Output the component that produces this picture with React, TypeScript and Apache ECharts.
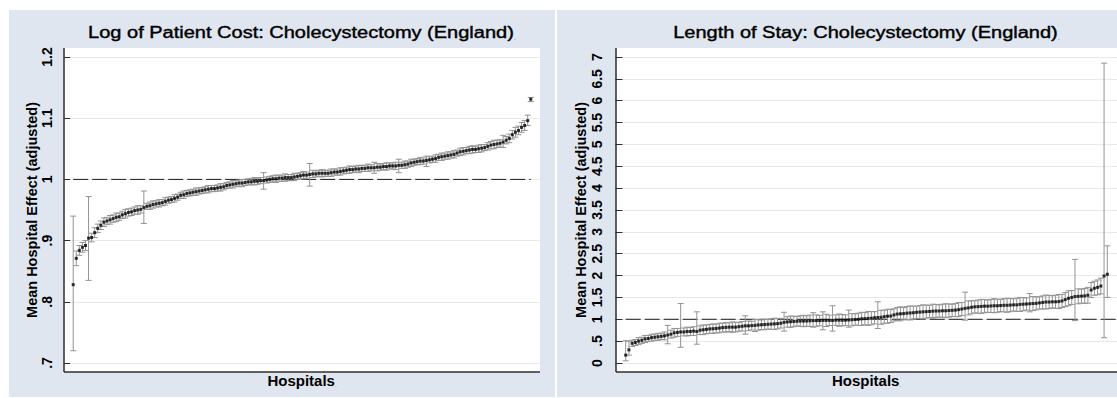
import React, { useEffect, useRef } from "react";
import * as echarts from "echarts";

// Hospitals ranked by their adjusted effect (1 = lowest)
const hospitalRank: number[] = Array.from({ length: 150 }, (_, i) => i + 1);

// Panel 1: log of patient cost, mean hospital effect and 95% CI half-width
const costMean: number[] = [
  0.828, 0.871, 0.884, 0.889, 0.892, 0.904, 0.905, 0.913, 0.92, 0.925,
  0.93, 0.932, 0.934, 0.936, 0.938, 0.939, 0.942, 0.944, 0.946, 0.947,
  0.949, 0.95, 0.951, 0.954, 0.956, 0.957, 0.959, 0.96, 0.961, 0.962,
  0.964, 0.966, 0.967, 0.969, 0.971, 0.974, 0.975, 0.977, 0.978, 0.979,
  0.98, 0.981, 0.982, 0.983, 0.984, 0.985, 0.985, 0.986, 0.987, 0.988,
  0.99, 0.991, 0.992, 0.993, 0.994, 0.994, 0.995, 0.996, 0.996, 0.997,
  0.997, 0.998, 0.998, 0.999, 1.0, 1.001, 1.001, 1.002, 1.002, 1.003,
  1.003, 1.003, 1.004, 1.005, 1.006, 1.007, 1.007, 1.008, 1.009, 1.009,
  1.01, 1.01, 1.01, 1.01, 1.011, 1.012, 1.012, 1.013, 1.014, 1.015,
  1.016, 1.016, 1.017, 1.017, 1.018, 1.018, 1.019, 1.019, 1.019, 1.02,
  1.02, 1.021, 1.021, 1.022, 1.022, 1.022, 1.023, 1.023, 1.024, 1.025,
  1.027, 1.028, 1.029, 1.03, 1.03, 1.031, 1.032, 1.033, 1.034, 1.036,
  1.037, 1.038, 1.039, 1.04, 1.041, 1.043, 1.045, 1.046, 1.047, 1.048,
  1.049, 1.049, 1.05, 1.051, 1.052, 1.054, 1.056, 1.057, 1.058, 1.059,
  1.061, 1.064, 1.067, 1.073, 1.077, 1.08, 1.085, 1.088, 1.096, 1.131,
];
const costHalf: number[] = [
  0.01, 0.012, 0.008, 0.008, 0.008, 0.01, 0.007, 0.008, 0.007, 0.007,
  0.007, 0.006, 0.007, 0.006, 0.007, 0.006, 0.006, 0.007, 0.006, 0.006,
  0.006, 0.007, 0.006, 0.006, 0.005, 0.006, 0.006, 0.005, 0.006, 0.005,
  0.006, 0.005, 0.005, 0.006, 0.005, 0.005, 0.006, 0.005, 0.005, 0.005,
  0.006, 0.005, 0.005, 0.005, 0.006, 0.005, 0.005, 0.005, 0.006, 0.005,
  0.005, 0.005, 0.006, 0.005, 0.005, 0.006, 0.005, 0.005, 0.005, 0.006,
  0.005, 0.005, 0.006, 0.005, 0.005, 0.005, 0.006, 0.005, 0.005, 0.006,
  0.005, 0.005, 0.006, 0.005, 0.005, 0.006, 0.005, 0.005, 0.006, 0.005,
  0.005, 0.006, 0.005, 0.005, 0.006, 0.005, 0.005, 0.006, 0.005, 0.005,
  0.006, 0.005, 0.005, 0.006, 0.005, 0.005, 0.006, 0.005, 0.005, 0.006,
  0.005, 0.005, 0.006, 0.005, 0.005, 0.006, 0.005, 0.005, 0.006, 0.005,
  0.006, 0.005, 0.005, 0.006, 0.005, 0.006, 0.005, 0.005, 0.006, 0.005,
  0.006, 0.005, 0.006, 0.005, 0.006, 0.005, 0.006, 0.006, 0.005, 0.006,
  0.006, 0.005, 0.006, 0.006, 0.005, 0.006, 0.006, 0.007, 0.006, 0.006,
  0.007, 0.006, 0.007, 0.007, 0.008, 0.007, 0.008, 0.008, 0.009, 0.004,
];
// hospitals whose interval is wide or asymmetric: [rank, lower, upper]
const costWide: [number, number, number][] = [
  [1, 0.72, 0.94], [6, 0.835, 0.972], [24, 0.928, 0.981], [63, 0.984, 1.011],
  [78, 0.989, 1.026], [99, 1.01, 1.028], [107, 1.011, 1.033], [116, 1.021, 1.038],
  [141, 1.052, 1.072], [149, 1.088, 1.105], [150, 1.127, 1.134],
];
const costTickValues: number[] = [0.7, 0.8, 0.9, 1.0, 1.1, 1.2];
const costTickLabels: string[] = [".7", ".8", ".9", "1", "1.1", "1.2"];

// Panel 2: length of stay, mean hospital effect and 95% CI half-width
const stayMean: number[] = [
  0.18, 0.3, 0.45, 0.47, 0.5, 0.52, 0.55, 0.56, 0.58, 0.59,
  0.6, 0.61, 0.62, 0.64, 0.66, 0.69, 0.7, 0.71, 0.71, 0.72,
  0.72, 0.73, 0.72, 0.75, 0.76, 0.77, 0.78, 0.785, 0.79, 0.8,
  0.81, 0.815, 0.82, 0.82, 0.82, 0.83, 0.84, 0.85, 0.85, 0.855,
  0.86, 0.87, 0.875, 0.88, 0.885, 0.89, 0.895, 0.9, 0.91, 0.93,
  0.94, 0.945, 0.95, 0.955, 0.96, 0.96, 0.96, 0.965, 0.97, 0.97,
  0.97, 0.975, 0.975, 0.975, 0.975, 0.98, 0.98, 0.98, 0.98, 0.985,
  0.99, 0.995, 1.0, 1.01, 1.015, 1.02, 1.025, 1.035, 1.04, 1.045,
  1.06, 1.07, 1.075, 1.1, 1.12, 1.125, 1.13, 1.14, 1.145, 1.15,
  1.16, 1.165, 1.17, 1.175, 1.18, 1.185, 1.19, 1.19, 1.195, 1.195,
  1.2, 1.205, 1.21, 1.22, 1.235, 1.25, 1.26, 1.275, 1.285, 1.29,
  1.295, 1.3, 1.3, 1.305, 1.31, 1.31, 1.315, 1.32, 1.32, 1.325,
  1.33, 1.33, 1.34, 1.345, 1.35, 1.355, 1.36, 1.365, 1.375, 1.385,
  1.395, 1.395, 1.4, 1.4, 1.405, 1.42, 1.45, 1.48, 1.5, 1.52,
  1.525, 1.53, 1.535, 1.55, 1.67, 1.71, 1.73, 1.76, 1.99, 2.03,
];
const stayHalf: number[] = [
  0.08, 0.08, 0.07, 0.07, 0.08, 0.07, 0.08, 0.07, 0.08, 0.07,
  0.08, 0.07, 0.09, 0.08, 0.09, 0.1, 0.09, 0.08, 0.09, 0.1,
  0.09, 0.1, 0.09, 0.1, 0.11, 0.1, 0.1, 0.11, 0.1, 0.11,
  0.1, 0.11, 0.1, 0.12, 0.11, 0.1, 0.11, 0.12, 0.11, 0.1,
  0.11, 0.12, 0.11, 0.12, 0.11, 0.12, 0.13, 0.12, 0.11, 0.12,
  0.12, 0.13, 0.12, 0.11, 0.12, 0.13, 0.12, 0.13, 0.12, 0.13,
  0.12, 0.13, 0.14, 0.12, 0.13, 0.12, 0.14, 0.13, 0.12, 0.13,
  0.14, 0.13, 0.14, 0.15, 0.14, 0.16, 0.15, 0.14, 0.15, 0.16,
  0.15, 0.16, 0.15, 0.14, 0.15, 0.16, 0.14, 0.15, 0.16, 0.15,
  0.14, 0.15, 0.16, 0.15, 0.14, 0.16, 0.15, 0.14, 0.15, 0.16,
  0.15, 0.14, 0.15, 0.16, 0.15, 0.14, 0.16, 0.15, 0.14, 0.15,
  0.16, 0.15, 0.14, 0.15, 0.16, 0.15, 0.14, 0.15, 0.16, 0.15,
  0.14, 0.15, 0.16, 0.15, 0.14, 0.15, 0.16, 0.15, 0.14, 0.15,
  0.16, 0.15, 0.14, 0.15, 0.16, 0.15, 0.16, 0.17, 0.16, 0.17,
  0.17, 0.16, 0.17, 0.18, 0.17, 0.16, 0.17, 0.18, 0.2, 0.2,
];
const stayWide: [number, number, number][] = [
  [1, 0.05, 0.51], [2, 0.18, 0.5], [14, 0.44, 0.86], [18, 0.36, 1.36],
  [23, 0.43, 1.17], [38, 0.66, 1.08], [41, 0.72, 1.0], [50, 0.73, 1.16],
  [59, 0.82, 1.15], [62, 0.76, 1.17], [65, 0.73, 1.31], [70, 0.82, 1.21],
  [79, 0.79, 1.4], [106, 0.98, 1.62], [126, 1.17, 1.59], [140, 0.97, 2.37],
  [149, 0.58, 6.86], [150, 1.5, 2.68],
];
const stayTickValues: number[] = [0, 0.5, 1, 1.5, 2, 2.5, 3, 3.5, 4, 4.5, 5, 5.5, 6, 6.5, 7];
const stayTickLabels: string[] = ["0", ".5", "1", "1.5", "2", "2.5", "3", "3.5", "4", "4.5", "5", "5.5", "6", "6.5", "7"];

const referenceLevel = 1;
const costTitle = "Log of Patient Cost: Cholecystectomy (England)";
const stayTitle = "Length of Stay: Cholecystectomy (England)";
const yTitle = "Mean Hospital Effect (adjusted)";
const xTitle = "Hospitals";

// layout (pixels)
const W = 1117;
const H = 398;
const PANEL_TOP = 10;
const PANEL_BOTTOM = 397;
const PLOT_TOP = 48;
const PLOT_BOTTOM = 372;
const DATA_TOP = 57;
const DATA_BOTTOM = 363;
const L_PLOT = { x0: 64, x1: 540 };
const R_PLOT = { x0: 616, x1: 1117 };
const X_MIN = -2;
const X_MAX = 153;

const BG = "#dfe6ef";
const GRID = "#e3e9f1";
const AXIS = "#2e2e2e";
const BAR = "#939393";
const FONT = '"Liberation Sans", Arial, sans-serif';

function intervals(mean: number[], half: number[], wide: [number, number, number][]) {
  return hospitalRank.map((r, k) => {
    const w = wide.find((e) => e[0] === r);
    return w ? [r, w[1], w[2]] : [r, mean[k] - half[k], mean[k] + half[k]];
  });
}

function tickFormatter(values: number[], labels: string[]) {
  return (v: number) => {
    const k = values.findIndex((t) => Math.abs(t - v) < 1e-6);
    return k >= 0 ? labels[k] : "";
  };
}

const renderErrorBar = (_params: any, api: any) => {
  const x = api.value(0);
  const top = api.coord([x, api.value(2)]);
  const bot = api.coord([x, api.value(1)]);
  const hw = 3;
  const style = { stroke: BAR, lineWidth: 1 };
  return {
    type: "group",
    children: [
      { type: "line", shape: { x1: top[0], y1: top[1], x2: bot[0], y2: bot[1] }, style },
      { type: "line", shape: { x1: top[0] - hw, y1: top[1], x2: top[0] + hw, y2: top[1] }, style },
      { type: "line", shape: { x1: bot[0] - hw, y1: bot[1], x2: bot[0] + hw, y2: bot[1] }, style },
    ],
  };
};

function panelSeries(idx: number, mean: number[], half: number[], wide: [number, number, number][], refEnd: number) {
  return [
    {
      type: "line",
      xAxisIndex: idx,
      yAxisIndex: idx,
      data: [
        [hospitalRank[0], referenceLevel],
        [refEnd, referenceLevel],
      ],
      symbol: "none",
      silent: true,
      z: 1,
      lineStyle: { color: "#1a1a1a", width: 1, type: [15, 4] },
    },
    {
      type: "custom",
      xAxisIndex: idx,
      yAxisIndex: idx,
      data: intervals(mean, half, wide),
      encode: { x: 0, y: [1, 2] },
      renderItem: renderErrorBar,
      z: 2,
    },
    {
      type: "scatter",
      xAxisIndex: idx,
      yAxisIndex: idx,
      data: hospitalRank.map((r, k) => [r, mean[k]]),
      symbol: "rect",
      symbolSize: 3,
      itemStyle: { color: "#000" },
      z: 3,
    },
  ];
}

function yAxisFor(idx: number, min: number, max: number, interval: number, values: number[], labels: string[], tickLen: number, margin: number) {
  return {
    type: "value",
    gridIndex: idx,
    min,
    max,
    interval,
    axisLine: { show: false },
    axisTick: { show: true, length: tickLen, lineStyle: { color: AXIS, width: 1 } },
    axisLabel: {
      rotate: 90,
      margin,
      color: "#000",
      fontFamily: FONT,
      fontWeight: "bold",
      fontSize: 14,
      formatter: tickFormatter(values, labels),
    },
    splitLine: { show: true, lineStyle: { color: GRID, width: 1 } },
  };
}

function xAxisFor(idx: number) {
  return {
    type: "value",
    gridIndex: idx,
    min: X_MIN,
    max: X_MAX,
    show: false,
  };
}

function titleText(text: string, cx: number) {
  return {
    type: "text",
    x: cx,
    y: 33,
    scaleX: 1.25,
    z: 10,
    style: {
      text: `{t|${text}}{d|.}`,
      textAlign: "center",
      textVerticalAlign: "middle",
      fill: "#000",
      rich: {
        t: { fontFamily: FONT, fontSize: 16, fill: "#000", stroke: "#000", lineWidth: 0.4 },
        d: { fontFamily: FONT, fontSize: 6, fill: "#555", verticalAlign: "bottom" },
      },
    },
  };
}

function xTitleText(cx: number) {
  return {
    type: "text",
    x: cx,
    y: 380,
    z: 10,
    style: {
      text: `{t|${xTitle}}{d|.}`,
      textAlign: "center",
      textVerticalAlign: "middle",
      fill: "#000",
      rich: {
        t: { fontFamily: FONT, fontSize: 15, fontWeight: "bold", fill: "#000" },
        d: { fontFamily: FONT, fontSize: 6, fill: "#555", verticalAlign: "bottom" },
      },
    },
  };
}

function yTitleText(cx: number) {
  return {
    type: "text",
    x: cx,
    y: (PLOT_TOP + PLOT_BOTTOM) / 2,
    rotation: Math.PI / 2,
    z: 10,
    style: {
      text: yTitle,
      font: `bold 14.5px ${FONT}`,
      textAlign: "center",
      textVerticalAlign: "middle",
      fill: "#000",
    },
  };
}

function plotFrame(p: { x0: number; x1: number }) {
  return [
    {
      type: "rect",
      z: -9,
      silent: true,
      shape: { x: p.x0, y: PLOT_TOP, width: p.x1 - p.x0, height: PLOT_BOTTOM - PLOT_TOP },
      style: { fill: "#fff" },
    },
    {
      type: "line",
      z: 5,
      silent: true,
      shape: { x1: p.x0, y1: PLOT_TOP, x2: p.x0, y2: PLOT_BOTTOM },
      style: { stroke: AXIS, lineWidth: 1.5 },
    },
    {
      type: "line",
      z: 5,
      silent: true,
      shape: { x1: p.x0, y1: PLOT_BOTTOM, x2: p.x1, y2: PLOT_BOTTOM },
      style: { stroke: AXIS, lineWidth: 1.5 },
    },
  ];
}

export default function App() {
  const ref = useRef<HTMLDivElement>(null);

  useEffect(() => {
    if (!ref.current) return;
    const chart = echarts.init(ref.current, undefined, { renderer: "svg" });
    chart.setOption({
      animation: false,
      backgroundColor: "#fff",
      grid: [
        { left: L_PLOT.x0, top: DATA_TOP, width: L_PLOT.x1 - L_PLOT.x0, height: DATA_BOTTOM - DATA_TOP },
        { left: R_PLOT.x0, top: DATA_TOP, width: R_PLOT.x1 - R_PLOT.x0, height: DATA_BOTTOM - DATA_TOP },
      ],
      xAxis: [xAxisFor(0), xAxisFor(1)],
      yAxis: [
        yAxisFor(0, 0.7, 1.2, 0.1, costTickValues, costTickLabels, 6, 10),
        yAxisFor(1, 0, 7, 0.5, stayTickValues, stayTickLabels, 7, 12),
      ],
      series: [
        ...panelSeries(0, costMean, costHalf, costWide, hospitalRank[hospitalRank.length - 1]),
        ...panelSeries(1, stayMean, stayHalf, stayWide, X_MAX),
      ],
      graphic: [
        {
          type: "rect",
          z: -10,
          silent: true,
          shape: { x: 9, y: PANEL_TOP, width: 546, height: PANEL_BOTTOM - PANEL_TOP },
          style: { fill: BG },
        },
        {
          type: "rect",
          z: -10,
          silent: true,
          shape: { x: 557, y: PANEL_TOP, width: W - 557, height: PANEL_BOTTOM - PANEL_TOP },
          style: { fill: BG },
        },
        ...plotFrame(L_PLOT),
        ...plotFrame(R_PLOT),
        titleText(costTitle, (L_PLOT.x0 + L_PLOT.x1) / 2),
        titleText(stayTitle, (R_PLOT.x0 + R_PLOT.x1) / 2),
        xTitleText((L_PLOT.x0 + L_PLOT.x1) / 2),
        xTitleText((R_PLOT.x0 + R_PLOT.x1) / 2),
        yTitleText(31.5),
        yTitleText(581),
      ],
    });
    return () => chart.dispose();
  }, []);

  return (
    <div
      ref={ref}
      style={{ position: "fixed", left: 0, top: 0, width: W, height: H }}
    />
  );
}
